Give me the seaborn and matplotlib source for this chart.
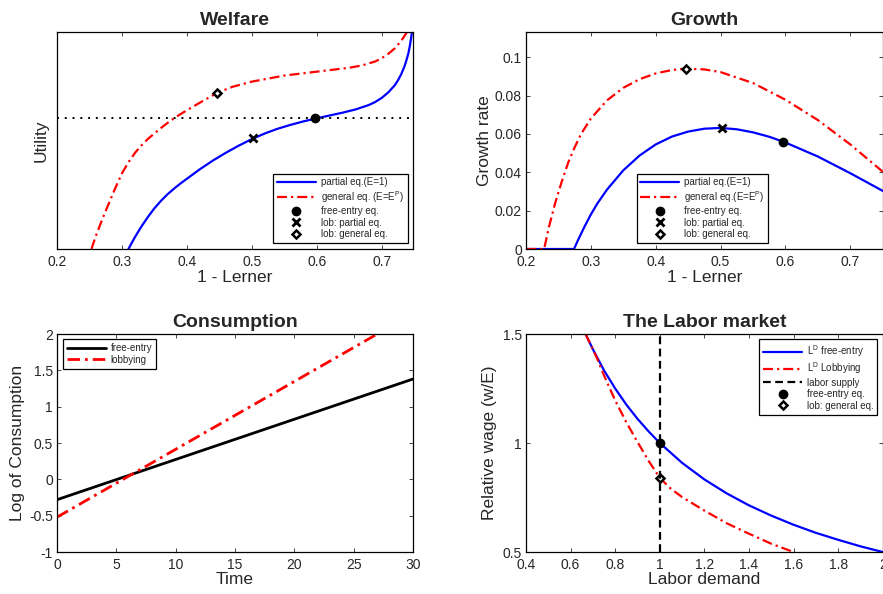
import numpy as np
import pandas as pd
import matplotlib
matplotlib.use("Agg")
import matplotlib.pyplot as plt
import seaborn as sns
from matplotlib.lines import Line2D

# ---------------- data ----------------
# Welfare (utility, arbitrary units 0..1 of the axis)
welf_x_partial = [0.310, 0.315, 0.320, 0.330, 0.340, 0.350, 0.360, 0.370, 0.380, 0.390, 0.400,
                  0.420, 0.440, 0.460, 0.480, 0.500, 0.520, 0.540, 0.560, 0.580, 0.600, 0.620,
                  0.640, 0.660, 0.680, 0.690, 0.700, 0.710, 0.720, 0.725, 0.730, 0.735, 0.738,
                  0.741, 0.743, 0.745, 0.747]
welf_y_partial = [0.000, 0.028, 0.055, 0.104, 0.148, 0.188, 0.222, 0.252, 0.278, 0.302, 0.324,
                  0.368, 0.408, 0.444, 0.477, 0.507, 0.533, 0.555, 0.573, 0.589, 0.603, 0.616,
                  0.629, 0.644, 0.664, 0.678, 0.697, 0.722, 0.755, 0.778, 0.806, 0.842, 0.870,
                  0.902, 0.932, 0.968, 1.010]
welf_x_general = [0.253, 0.260, 0.270, 0.280, 0.290, 0.300, 0.310, 0.320, 0.330, 0.340, 0.350,
                  0.360, 0.370, 0.380, 0.390, 0.400, 0.420, 0.447, 0.470, 0.500, 0.550, 0.600,
                  0.650, 0.670, 0.690, 0.700, 0.710, 0.720, 0.730, 0.740]
welf_y_general = [0.000, 0.062, 0.140, 0.212, 0.283, 0.349, 0.400, 0.443, 0.478, 0.508, 0.533,
                  0.558, 0.581, 0.603, 0.622, 0.640, 0.675, 0.721, 0.748, 0.772, 0.800, 0.818,
                  0.836, 0.847, 0.865, 0.880, 0.900, 0.925, 0.960, 1.005]
welf_ref_level = 0.603
welf_free_entry = (0.597, 0.602)
welf_lob_partial = (0.502, 0.510)
welf_lob_general = (0.447, 0.721)

# Growth
gr_x_partial = [0.200, 0.274, 0.280, 0.290, 0.300, 0.310, 0.325, 0.350, 0.375, 0.400, 0.425,
                0.450, 0.475, 0.500, 0.525, 0.550, 0.575, 0.600, 0.650, 0.700, 0.750]
gr_y_partial = [0.000, 0.000, 0.0045, 0.0115, 0.0180, 0.0237, 0.0310, 0.0410, 0.0487, 0.0545,
                0.0586, 0.0612, 0.0627, 0.0631, 0.0624, 0.0608, 0.0585, 0.0555, 0.0482, 0.0395,
                0.0303]
gr_x_general = [0.200, 0.228, 0.235, 0.245, 0.255, 0.265, 0.275, 0.285, 0.300, 0.325, 0.350,
                0.375, 0.400, 0.425, 0.447, 0.475, 0.500, 0.550, 0.600, 0.650, 0.700, 0.750]
gr_y_general = [0.000, 0.000, 0.0110, 0.0240, 0.0350, 0.0450, 0.0530, 0.0600, 0.0680, 0.0775,
                0.0840, 0.0885, 0.0915, 0.0933, 0.0940, 0.0936, 0.0922, 0.0865, 0.0778, 0.0672,
                0.0545, 0.0403]
gr_free_entry = (0.597, 0.0557)
gr_lob_partial = (0.502, 0.0631)
gr_lob_general = (0.447, 0.0940)

# Consumption
cons_time = [0, 30]
cons_free_entry = [-0.28, 1.38]
cons_lobbying = [-0.52, 2.28]

# Labor market
lab_L_free = [0.667, 0.70, 0.75, 0.80, 0.85, 0.90, 0.95, 1.00, 1.10, 1.20, 1.30, 1.40, 1.50,
              1.60, 1.70, 1.80, 1.90, 2.00]
lab_w_free = [1.50, 1.43, 1.333, 1.25, 1.176, 1.111, 1.053, 1.00, 0.909, 0.833, 0.769, 0.714,
              0.667, 0.625, 0.588, 0.556, 0.526, 0.50]
lab_L_lob = [0.667, 0.70, 0.72, 0.75, 0.80, 0.85, 0.90, 0.95, 1.00, 1.05, 1.10, 1.20, 1.30,
             1.40, 1.50, 1.60]
lab_w_lob = [1.50, 1.43, 1.385, 1.31, 1.195, 1.095, 1.005, 0.918, 0.84, 0.790, 0.752, 0.690,
             0.632, 0.584, 0.538, 0.500]
lab_supply = 1.0
lab_free_entry = (1.0, 1.0)
lab_lob_general = (1.0, 0.84)

# ---------------- style ----------------
sns.set_style("ticks")
plt.rcParams['font.family'] = ['Liberation Sans', 'DejaVu Sans']
plt.rcParams['mathtext.fontset'] = 'custom'
plt.rcParams['mathtext.rm'] = 'Liberation Sans'

BLUE = '#0000ff'
RED = '#ff0000'
DASHDOT = (0, (4.5, 1.8, 1.0, 1.8))
DASHED = (0, (3.5, 2.0))
LW = 1.6
TICK_FS = 10
LABEL_FS = 12.5
TITLE_FS = 14
LEG_FS = 7

fig = plt.figure(figsize=(8.83, 5.94), dpi=100)
ax1 = fig.add_axes([0.0646, 0.5808, 0.403, 0.365])
ax2 = fig.add_axes([0.5957, 0.5808, 0.404, 0.365])
ax3 = fig.add_axes([0.0646, 0.0707, 0.403, 0.367])
ax4 = fig.add_axes([0.5957, 0.0707, 0.404, 0.367])


def style_axes(ax):
    ax.tick_params(direction='in', top=True, right=True, labelsize=TICK_FS, length=3,
                   width=0.6)
    ax.tick_params(axis='x', pad=4)
    ax.tick_params(axis='y', pad=3)
    for s in ax.spines.values():
        s.set_visible(True)
        s.set_linewidth(0.9)
        s.set_color('black')


def dot(ax, pt):
    ax.plot(*pt, 'o', color='k', ms=6, zorder=5)


def cross(ax, pt):
    ax.plot(*pt, 'x', color='k', ms=6, mew=2, zorder=5)


def diamond(ax, pt, z=5):
    ax.plot(*pt, 'D', mfc='white', mec='k', ms=4.5, mew=1.8, zorder=z)


def marker_handles(which):
    hs = []
    if 'o' in which:
        hs.append(Line2D([], [], ls='none', marker='o', color='k', ms=6, label='free-entry eq.'))
    if 'x' in which:
        hs.append(Line2D([], [], ls='none', marker='x', color='k', ms=6, mew=2,
                         label='lob: partial eq.'))
    if 'd' in which:
        hs.append(Line2D([], [], ls='none', marker='D', mfc='white', mec='k', ms=4.5, mew=1.8,
                         label='lob: general eq.'))
    return hs


def make_legend(ax, handles, loc, anchor):
    leg = ax.legend(handles=handles, loc=loc, bbox_to_anchor=anchor, fontsize=LEG_FS,
                    frameon=True, fancybox=False, edgecolor='black', framealpha=1,
                    handlelength=4.0, labelspacing=0.15, borderpad=0.4, handletextpad=0.5,
                    borderaxespad=0)
    leg.get_frame().set_linewidth(0.9)
    return leg


# ---------------- Welfare ----------------
sns.lineplot(x=welf_x_partial, y=welf_y_partial, ax=ax1, color=BLUE, lw=LW, sort=False)
sns.lineplot(x=welf_x_general, y=welf_y_general, ax=ax1, color=RED, lw=LW, linestyle=DASHDOT,
             sort=False)
ax1.axhline(welf_ref_level, color='k', ls=(0, (1, 3)), lw=1.4)
dot(ax1, welf_free_entry)
cross(ax1, welf_lob_partial)
diamond(ax1, welf_lob_general)
ax1.set_xlim(0.2, 0.748)
ax1.set_ylim(0, 1)
ax1.set_xticks([0.2, 0.3, 0.4, 0.5, 0.6, 0.7])
ax1.set_xticklabels(['0.2', '0.3', '0.4', '0.5', '0.6', '0.7'])
ax1.set_yticks([])
style_axes(ax1)
ax1.set_xlabel('1 - Lerner', fontsize=LABEL_FS, labelpad=1)
ax1.set_ylabel('Utility', fontsize=LABEL_FS, labelpad=6)
ax1.set_title('Welfare', fontsize=TITLE_FS, fontweight='bold', pad=5)
h1 = [Line2D([], [], color=BLUE, lw=LW, label='partial eq.(E=1)'),
      Line2D([], [], color=RED, lw=LW, ls=DASHDOT, label=r'general eq. (E=E$^{\mathregular{P}}$)')]
h1 += marker_handles('oxd')
make_legend(ax1, h1, 'lower right', (0.985, 0.028))

# ---------------- Growth ----------------
sns.lineplot(x=gr_x_partial, y=gr_y_partial, ax=ax2, color=BLUE, lw=LW, sort=False)
sns.lineplot(x=gr_x_general, y=gr_y_general, ax=ax2, color=RED, lw=LW, linestyle=DASHDOT,
             sort=False)
dot(ax2, gr_free_entry)
cross(ax2, gr_lob_partial)
diamond(ax2, gr_lob_general)
ax2.set_xlim(0.2, 0.75)
ax2.set_ylim(0, 0.113)
ax2.set_xticks([0.2, 0.3, 0.4, 0.5, 0.6, 0.7])
ax2.set_xticklabels(['0.2', '0.3', '0.4', '0.5', '0.6', '0.7'])
ax2.set_yticks([0, 0.02, 0.04, 0.06, 0.08, 0.1])
ax2.set_yticklabels(['0', '0.02', '0.04', '0.06', '0.08', '0.1'])
style_axes(ax2)
ax2.set_xlabel('1 - Lerner', fontsize=LABEL_FS, labelpad=1)
ax2.set_ylabel('Growth rate', fontsize=LABEL_FS, labelpad=2)
ax2.set_title('Growth', fontsize=TITLE_FS, fontweight='bold', pad=5)
h2 = [Line2D([], [], color=BLUE, lw=LW, label='partial eq.(E=1)'),
      Line2D([], [], color=RED, lw=LW, ls=DASHDOT, label=r'general eq.(E=E$^{\mathregular{P}}$)')]
h2 += marker_handles('oxd')
make_legend(ax2, h2, 'lower left', (0.31, 0.028))

# ---------------- Consumption ----------------
cons_df = pd.DataFrame({'Time': cons_time, 'free': cons_free_entry, 'lob': cons_lobbying})
sns.lineplot(data=cons_df, x='Time', y='free', ax=ax3, color='black', lw=2.0, label='free-entry')
sns.lineplot(data=cons_df, x='Time', y='lob', ax=ax3, color=RED, lw=2.0, linestyle=DASHDOT,
             label='lobbying')
ax3.set_xlim(0, 30)
ax3.set_ylim(-1, 2)
ax3.set_xticks([0, 5, 10, 15, 20, 25, 30])
ax3.set_yticks([-1, -0.5, 0, 0.5, 1, 1.5, 2])
ax3.set_yticklabels(['-1', '-0.5', '0', '0.5', '1', '1.5', '2'])
style_axes(ax3)
ax3.set_xlabel('Time', fontsize=LABEL_FS, labelpad=0)
ax3.set_ylabel('Log of Consumption', fontsize=LABEL_FS, labelpad=3)
ax3.set_title('Consumption', fontsize=TITLE_FS, fontweight='bold', pad=5)
h3, _ = ax3.get_legend_handles_labels()
make_legend(ax3, h3, 'upper left', (0.017, 0.975))

# ---------------- Labor market ----------------
sns.lineplot(x=lab_L_free, y=lab_w_free, ax=ax4, color=BLUE, lw=LW, sort=False)
sns.lineplot(x=lab_L_lob, y=lab_w_lob, ax=ax4, color=RED, lw=LW, linestyle=DASHDOT, sort=False)
diamond(ax4, lab_lob_general, z=3)
ax4.axvline(lab_supply, color='black', lw=LW, ls=DASHED, zorder=4)
dot(ax4, lab_free_entry)
ax4.set_xlim(0.4, 2.0)
ax4.set_ylim(0.5, 1.5)
ax4.set_xticks([0.4, 0.6, 0.8, 1.0, 1.2, 1.4, 1.6, 1.8, 2.0])
ax4.set_xticklabels(['0.4', '0.6', '0.8', '1', '1.2', '1.4', '1.6', '1.8', '2'])
ax4.set_yticks([0.5, 1, 1.5])
ax4.set_yticklabels(['0.5', '1', '1.5'])
style_axes(ax4)
ax4.set_xlabel('Labor demand', fontsize=LABEL_FS, labelpad=0)
ax4.set_ylabel('Relative wage (w/E)', fontsize=LABEL_FS, labelpad=4)
ax4.set_title('The Labor market', fontsize=TITLE_FS, fontweight='bold', pad=5)
h4 = [Line2D([], [], color=BLUE, lw=LW, label=r'L$^{\mathregular{D}}$ free-entry'),
      Line2D([], [], color=RED, lw=LW, ls=DASHDOT, label=r'L$^{\mathregular{D}}$ Lobbying'),
      Line2D([], [], color='black', lw=LW, ls=DASHED, label='labor supply')]
h4 += marker_handles('od')
make_legend(ax4, h4, 'upper right', (0.985, 0.975))

fig.savefig('out.png', dpi=100)
